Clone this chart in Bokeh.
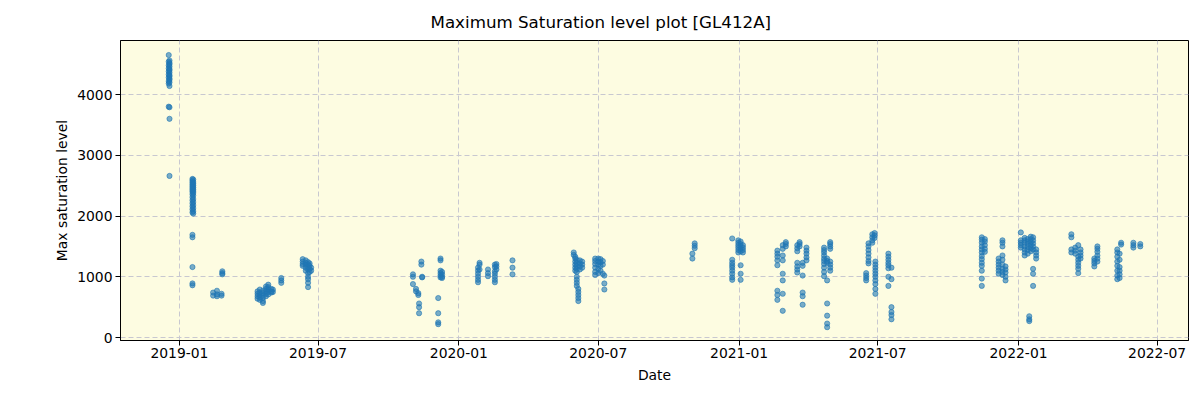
import pandas as pd
from bokeh.plotting import figure
from bokeh.models import FixedTicker, DatetimeTickFormatter, Range1d, ColumnDataSource
from bokeh.embed import file_html
from bokeh.resources import INLINE

# observation dates (one entry per group of measurements)
obs_dates = [
    "2018-12-18", "2018-12-19", "2019-01-18", "2019-01-19",
    "2019-02-14", "2019-02-19", "2019-02-25", "2019-02-26",
    "2019-04-13", "2019-04-16", "2019-04-20", "2019-04-24", "2019-04-27",
    "2019-05-01", "2019-05-03", "2019-05-14",
    "2019-06-11", "2019-06-15", "2019-06-18", "2019-06-20", "2019-06-22",
    "2019-11-02", "2019-11-06", "2019-11-09", "2019-11-10", "2019-11-13", "2019-11-14",
    "2019-12-05", "2019-12-08", "2019-12-10",
    "2020-01-26", "2020-01-28", "2020-02-08", "2020-02-17", "2020-02-19", "2020-03-11",
    "2020-05-30", "2020-06-01", "2020-06-03", "2020-06-05", "2020-06-07", "2020-06-10",
    "2020-06-27", "2020-07-01", "2020-07-04", "2020-07-07", "2020-07-09",
    "2020-11-01", "2020-11-04",
    "2020-12-23", "2020-12-31", "2021-01-03", "2021-01-06",
    "2021-02-20", "2021-02-27", "2021-03-03",
    "2021-03-18", "2021-03-21", "2021-03-25", "2021-03-30",
    "2021-04-22", "2021-04-26", "2021-04-30",
    "2021-06-16", "2021-06-19", "2021-06-24", "2021-06-27", "2021-06-28",
    "2021-07-15", "2021-07-19",
    "2021-11-14", "2021-11-18", "2021-12-06", "2021-12-11", "2021-12-15",
    "2022-01-04", "2022-01-09", "2022-01-13", "2022-01-15", "2022-01-17", "2022-01-20", "2022-01-24",
    "2022-03-11", "2022-03-16", "2022-03-20", "2022-03-23",
    "2022-04-10", "2022-04-14",
    "2022-05-10", "2022-05-13", "2022-05-15", "2022-05-31", "2022-06-09",
]

# max saturation levels measured on each of those dates
obs_levels = [
    [4650, 4540, 4480, 4430, 4380, 4330, 4280, 4220, 4180, 3800],
    [4560, 4520, 4500, 4460, 4420, 4400, 4360, 4320, 4300, 4260, 4240, 4200, 4140, 3790, 3600, 2660],
    [2610, 2580, 2550, 2520, 2490, 2460, 2430, 2400, 2360, 2310, 2260, 2210, 2160, 2110, 2060, 1690, 1650, 1160, 890, 860],
    [2600, 2560, 2530, 2500, 2470, 2440, 2410, 2380, 2340, 2280, 2230, 2180, 2130, 2080, 2040],
    [740, 690], [770, 710, 680], [720, 690], [1090, 1060, 1040],
    [760, 720, 680, 640], [790, 740, 700, 660, 620], [770, 730, 690, 650, 600, 570],
    [840, 800, 760, 720, 680], [870, 830, 790, 750, 710],
    [800, 760, 740], [790, 750], [980, 940, 900],
    [1290, 1250, 1210, 1180], [1270, 1230, 1200, 1150, 1100],
    [1240, 1200, 1160, 1120, 1060, 1000, 960, 900, 830], [1220, 1180, 1130, 1080], [1150, 1100],
    [1040, 1000, 880], [800, 760], [730, 700], [560, 500, 400], [1250, 1200], [1000, 990],
    [650, 400, 250, 220], [1300, 1270, 1100, 1060, 1020, 990], [1080, 1040, 1000, 980],
    [1150, 1100, 1050, 1000, 950, 910], [1230, 1200, 1120], [1120, 1060, 1010],
    [1200, 1160, 1090, 1050, 1000, 950, 910], [1210, 1170, 1120], [1270, 1150, 1040],
    [1400, 1360], [1330, 1300, 1250, 1200, 1150, 1100],
    [1280, 1230, 1180, 1130, 1080, 1000, 950, 900, 850], [800, 750, 700, 650, 600],
    [1270, 1220, 1170, 1120], [1250, 1200, 1150],
    [1300, 1260, 1210, 1150, 1080, 1030], [1300, 1250, 1200, 1130, 1060],
    [1290, 1240, 1180, 1100], [1260, 1200, 1050], [1020, 890, 790],
    [1380, 1300], [1550, 1510, 1470],
    [1630, 1280, 1230, 1190, 1150, 1100, 1050, 990, 950], [1600, 1560, 1520, 1480, 1440, 1400],
    [1580, 1540, 1500, 1460, 1420, 1190, 1050, 950], [1520, 1480, 1440, 1400],
    [1430, 1380, 1330, 1270, 1190, 770, 700, 620], [1520, 1460, 1350, 1270, 1050, 940, 720, 440],
    [1570, 1540, 1500],
    [1520, 1470, 1420, 1230, 1170, 1120, 1070], [1570, 1540, 1500],
    [1230, 1180, 1020, 740, 680, 540], [1480, 1430, 1380, 1320, 1270],
    [1480, 1440, 1400, 1350, 1300, 1260, 1210, 1150, 1080, 1010],
    [1300, 1260, 1230, 940, 560, 360, 230, 170],
    [1570, 1540, 1500, 1460, 1250, 1200, 1150, 1100],
    [1060, 1020, 980, 940], [1550, 1500, 1440, 1380, 1320, 1260, 1220],
    [1700, 1650, 1600, 1560], [1720, 1680, 1640],
    [1250, 1200, 1150, 1100, 1050, 1000, 940, 880, 800, 720],
    [1380, 1330, 1280, 1230, 1190, 1140, 1000, 850], [1150, 960, 500, 420, 370, 300],
    [1650, 1610, 1560, 1500, 1450, 1400, 1340, 1290, 1230, 1180, 1100, 970, 850],
    [1620, 1580, 1520, 1460, 1410], [1300, 1250, 1200, 1150, 1100, 1050],
    [1600, 1560, 1500, 1350, 1280, 1200, 1130, 1080, 1030], [1170, 1120, 1070, 1000, 940],
    [1730, 1600, 1560, 1520, 1480], [1640, 1600, 1560, 1500, 1450, 1400, 1350],
    [1620, 1580, 1540, 1490, 1440, 1380], [350, 300, 270],
    [1660, 1620, 1570, 1520, 1470, 1420], [1650, 1600, 1550, 1500, 1450, 1130, 1050, 850],
    [1450, 1400, 1350, 1300],
    [1700, 1650, 1450, 1400], [1480, 1430, 1380], [1520, 1330, 1280, 1230, 1180, 1130, 1060],
    [1450, 1400, 1350, 1300],
    [1300, 1260, 1220, 1170], [1500, 1460, 1410, 1350, 1300, 1250],
    [1450, 1400, 1330, 1250, 1180, 1100, 1020, 960], [1380, 1280, 1160, 1100, 1040, 980],
    [1560, 1530], [1560, 1520, 1480], [1540, 1500],
]

x_tick_labels = ["2019-01", "2019-07", "2020-01", "2020-07", "2021-01", "2021-07", "2022-01", "2022-07"]
y_ticks = [0, 1000, 2000, 3000, 4000]

xs, ys = [], []
for d, vals in zip(obs_dates, obs_levels):
    for v in vals:
        xs.append(pd.Timestamp(d))
        ys.append(v)
src = ColumnDataSource(dict(x=xs, y=ys))

FONT = "DejaVu Sans"
p = figure(width=1192, height=392, x_axis_type="datetime", output_backend="svg",
           toolbar_location=None,
           x_range=Range1d(pd.Timestamp("2018-10-16"), pd.Timestamp("2022-08-11")),
           y_range=Range1d(-49, 4889),
           min_border_left=120, min_border_right=4, min_border_top=40, min_border_bottom=52)

p.title.text = "Maximum Saturation level plot [GL412A]"
p.title.text_font = FONT
p.title.text_font_size = "16.7px"
p.title.text_font_style = "normal"
p.title.text_color = "black"
p.title.align = "left"
p.title.offset = 310
p.title.standoff = 18

p.background_fill_color = "#fdfce1"
p.border_fill_color = "white"
p.outline_line_color = "black"
p.outline_line_width = 1

p.scatter("x", "y", source=src, size=5.2, fill_color="#1f77b4", line_color="#1f77b4",
          fill_alpha=0.6, line_alpha=0.6)

tick_ms = [pd.Timestamp(t + "-01").value / 1e6 for t in x_tick_labels]
p.xaxis.ticker = FixedTicker(ticks=tick_ms)
fmt = "%Y-%m"
p.xaxis.formatter = DatetimeTickFormatter(years=fmt, months=fmt, days=fmt, hours=fmt,
                                          minutes=fmt, seconds=fmt, milliseconds=fmt,
                                          microseconds=fmt, minsec=fmt, hourmin=fmt)
p.yaxis.ticker = FixedTicker(ticks=y_ticks)

p.xaxis.axis_label = "Date"
p.yaxis.axis_label = "Max saturation level"
for ax in (p.xaxis, p.yaxis):
    ax.axis_label_text_font = FONT
    ax.axis_label_text_font_size = "13.9px"
    ax.axis_label_text_font_style = "normal"
    ax.axis_label_text_color = "black"
    ax.major_label_text_font = FONT
    ax.major_label_text_font_size = "13.9px"
    ax.major_label_text_color = "black"
    ax.axis_line_color = "black"
    ax.major_tick_line_color = "black"
    ax.major_tick_out = 5
    ax.major_tick_in = 0
    ax.minor_tick_line_color = None
    ax.major_label_standoff = 3
p.xaxis.major_label_standoff = 2
p.xaxis.axis_label_standoff = 6
p.yaxis.axis_label_standoff = 4

p.grid.grid_line_color = "#c8c8d0"
p.grid.grid_line_dash = "5 3"
p.grid.grid_line_width = 1

open("out.html", "w").write(file_html(p, INLINE))
